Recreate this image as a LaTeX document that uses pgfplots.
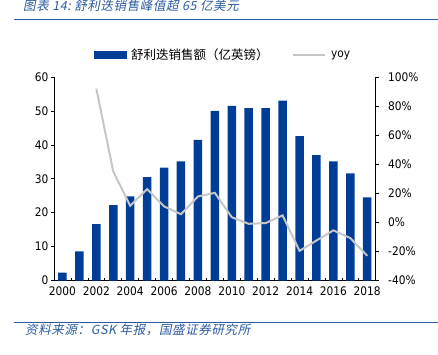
\documentclass[border=0pt]{standalone}
\usepackage{pgfplots}
\pgfplotsset{compat=1.18}
\usepackage{fontspec}
\setmainfont{DejaVu Sans Condensed}
\newfontfamily\cjk{Noto Sans CJK SC}
\newfontfamily\cjkit[FakeSlant=0.2, LetterSpace=5]{Noto Sans CJK SC}
\definecolor{barblue}{HTML}{003D96}
\definecolor{linegray}{HTML}{C6C6C6}
\definecolor{titleblue}{HTML}{2C5AA0}
\begin{document}
\begin{tikzpicture}
\useasboundingbox (0,0) rectangle (438pt,354pt);
% title and footer
\node[anchor=west, text=titleblue, font=\cjkit\fontsize{12.5}{14}\selectfont, inner sep=0pt] at (23pt,348pt) {图表 14:\ 舒利迭销售峰值超 65 亿美元};
\draw[titleblue, line width=1pt] (14pt,334.7pt) -- (438pt,334.7pt);
\draw[titleblue, line width=1pt] (14pt,31.3pt) -- (438pt,31.3pt);
\node[anchor=west, text=titleblue, font=\cjkit\fontsize{12.5}{14}\selectfont, inner sep=0pt] at (25pt,24pt) {资料来源：GSK 年报，国盛证券研究所};

\begin{axis}[
  at={(54pt,73.5pt)}, anchor=south west,
  scale only axis, width=321.7pt, height=203.5pt,
  xmin=1999.5, xmax=2018.5,
  ymin=0, ymax=60,
  ytick={0,10,...,60},
  xtick={2000,2002,...,2018},
  minor xtick={2000.5,2001.5,...,2017.5},
  axis x line*=bottom, axis y line*=left,
  axis line style={black, line width=0.8pt, -},
  tick align=inside,
  major x tick style={draw=none},
  minor x tick style={black, line width=0.6pt},
  minor tick length=3pt,
  major tick length=3pt,
  y tick style={black, line width=0.6pt, xshift=-3pt},
  xticklabel style={font=\fontsize{11.8}{13}\selectfont, yshift=-3pt},
  yticklabel style={font=\fontsize{11.8}{13}\selectfont, xshift=-2pt},
  /pgf/number format/assume math mode=true,
  xticklabel={\pgfmathprintnumber[1000 sep={}]{\tick}},
  clip=false,
]
\addplot[ybar, bar width=8.5pt, fill=barblue, draw=none] coordinates {
(2000,2.3) (2001,8.6) (2002,16.6) (2003,22.2) (2004,24.8) (2005,30.5)
(2006,33.3) (2007,35.1) (2008,41.5) (2009,50.0) (2010,51.5) (2011,50.8)
(2012,50.8) (2013,53.0) (2014,42.6) (2015,37.0) (2016,35.1) (2017,31.6)
(2018,24.5)};
\end{axis}

\begin{axis}[
  at={(54pt,73.5pt)}, anchor=south west,
  scale only axis, width=321.7pt, height=203.5pt,
  xmin=1999.5, xmax=2018.5,
  ymin=-40, ymax=100,
  ytick={-40,-20,...,100},
  axis x line=none, axis y line*=right,
  axis line style={black, line width=0.8pt, -},
  tick align=outside,
  major tick length=3pt,
  y tick style={black, line width=0.6pt},
  yticklabel style={font=\fontsize{11.8}{13}\selectfont, xshift=6pt},
  /pgf/number format/assume math mode=true,
  yticklabel={\pgfmathprintnumber{\tick}\%},
  legend columns=2,
  legend style={draw=none, fill=none, at={(0.525,1.108)}, anchor=center,
    font=\fontsize{11.8}{13}\selectfont, inner sep=0pt,
    /tikz/every odd column/.append style={column sep=3pt},
    /tikz/every even column/.append style={column sep=22pt}},
]
\addlegendimage{legend image code/.code={\fill[barblue] (0pt,-3.5pt) rectangle (32pt,3.5pt);}}
\addlegendentry{\cjk\fontsize{12.5}{14}\selectfont 舒利迭销售额（亿英镑）}
\addplot[linegray, line width=2pt, mark=none,
  legend image code/.code={\draw[linegray, line width=1.5pt] (0pt,0pt) -- (32pt,0pt);}] coordinates {
(2002,92) (2003,35) (2004,11.4) (2005,22.9) (2006,11) (2007,5.6) (2008,17.8)
(2009,20.3) (2010,3.5) (2011,-1) (2012,-0.5) (2013,4.8) (2014,-19.6)
(2015,-12.5) (2016,-5.5) (2017,-10.8) (2018,-23)};
\addlegendentry{yoy}
\end{axis}
\end{tikzpicture}
\end{document}
